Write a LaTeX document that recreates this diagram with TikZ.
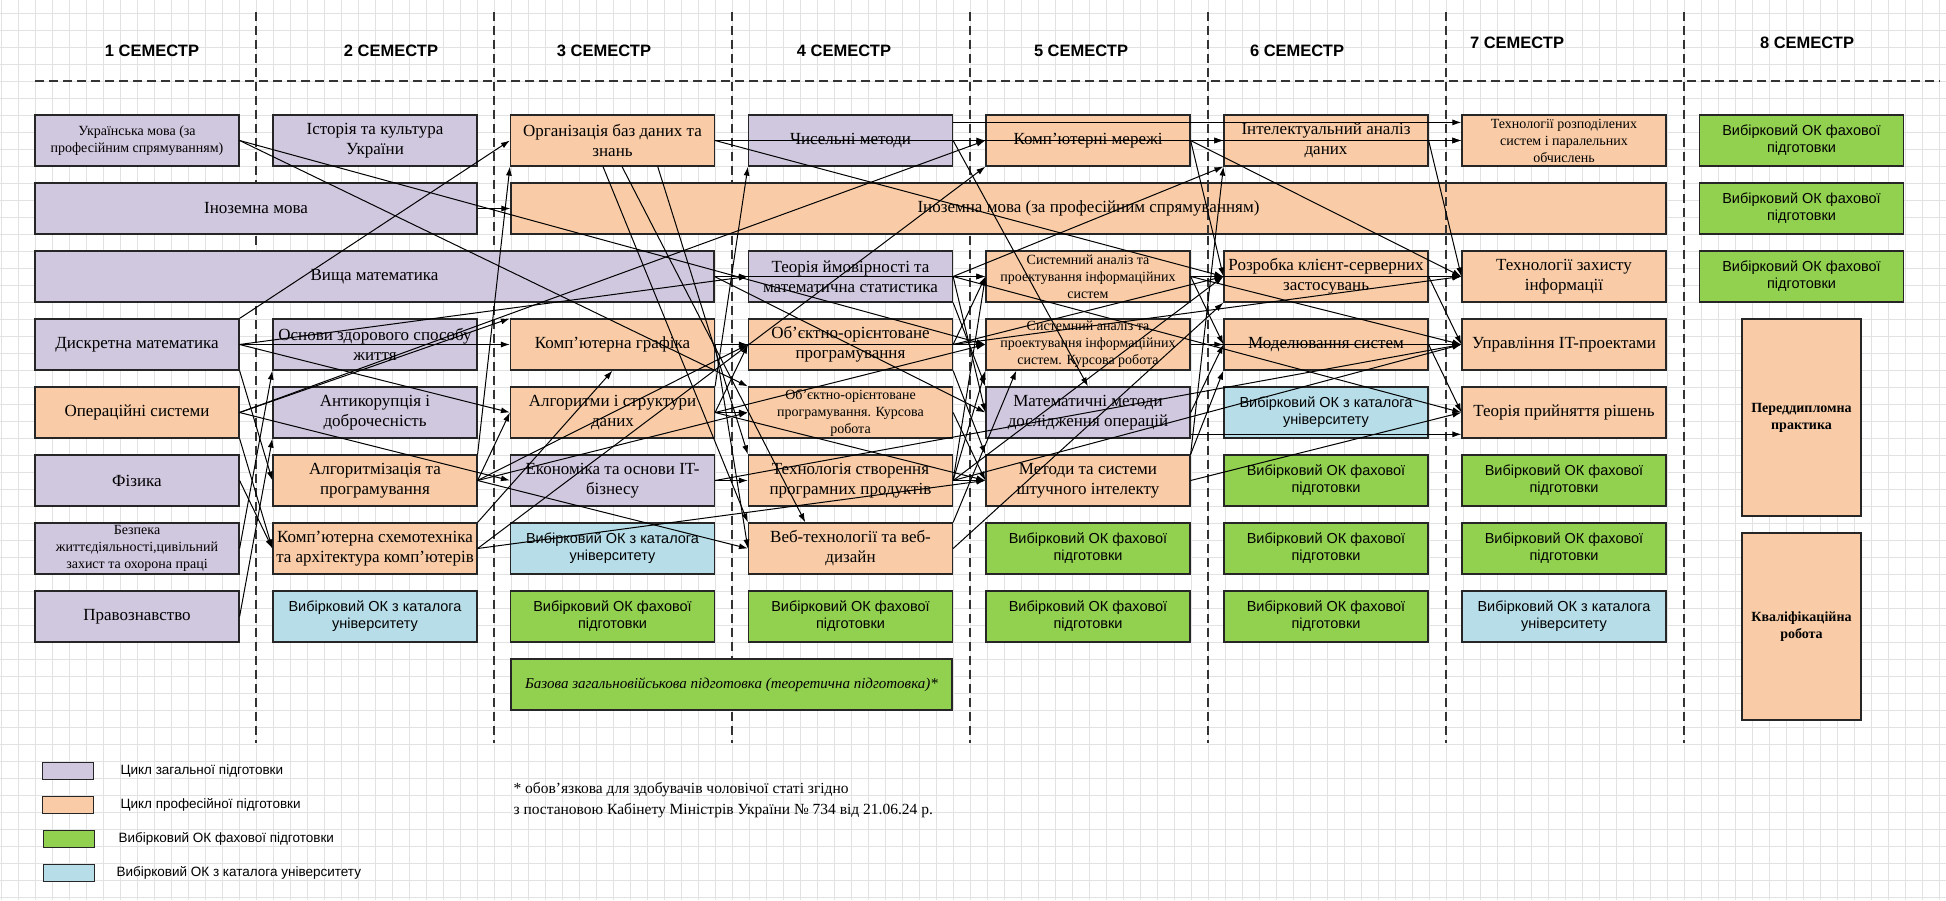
\documentclass[tikz,border=0pt]{standalone}
\usepackage{fontspec}
\setmainfont{Liberation Serif}
\setsansfont{Liberation Sans}
\usetikzlibrary{arrows.meta}

\definecolor{zagcol}{RGB}{208,200,223}
\definecolor{profcol}{RGB}{249,204,167}
\definecolor{fahcol}{RGB}{146,208,80}
\definecolor{katcol}{RGB}{183,221,232}
\definecolor{sitka}{RGB}{226,226,226}

\begin{document}
\begin{tikzpicture}[x=1pt,y=-1pt,
  box/.style={draw=black!85,line width=1.2pt,minimum width=204pt,minimum height=51pt,inner sep=1pt,align=center,font=\fontsize{17}{20}\selectfont},
  dribno/.style={font=\fontsize{14}{17}\selectfont},
  zag/.style={box,fill=zagcol},
  prof/.style={box,fill=profcol},
  fah/.style={box,fill=fahcol,font=\sffamily\fontsize{14.5}{17}\selectfont},
  kat/.style={box,fill=katcol,font=\sffamily\fontsize{14.5}{17}\selectfont},
  sem/.style={font=\sffamily\bfseries\fontsize{16.5}{20}\selectfont},
  razd/.style={black!80,line width=1.3pt,dash pattern=on 9pt off 5pt},
  dep/.style={-{Latex[length=9pt,width=6pt]},line width=1pt},
  leg/.style={draw=black!85,line width=1.2pt,minimum width=51pt,minimum height=17pt,inner sep=0pt},
  legtxt/.style={anchor=west,font=\sffamily\fontsize{13.5}{16}\selectfont}]

\useasboundingbox (0,0) rectangle (1946,900);
\fill[white] (0,0) rectangle (1946,900);
\draw[sitka,line width=0.8pt,step=17pt,xshift=1pt,yshift=-13pt] (-1,-13) grid (1945,887);
\draw[razd] (35,81) -- (1940,81);
\foreach \vx in {256,494,732,970,1208,1446,1684} \draw[razd] (\vx,12) -- (\vx,743);

% semestry
\node[sem] (s1) at (152,51) {1 СЕМЕСТР};
\node[sem] (s2) at (391,51) {2 СЕМЕСТР};
\node[sem] (s3) at (604,51) {3 СЕМЕСТР};
\node[sem] (s4) at (844,51) {4 СЕМЕСТР};
\node[sem] (s5) at (1081,51) {5 СЕМЕСТР};
\node[sem] (s6) at (1297,51) {6 СЕМЕСТР};
\node[sem] (s7) at (1517,43) {7 СЕМЕСТР};
\node[sem] (s8) at (1807,43) {8 СЕМЕСТР};

% 1 semestr
\node[zag,dribno] (ukr) at (137,140.5) {Українська мова (за\\професійним спрямуванням)};
\node[zag,minimum width=442pt] (inoz) at (256,208.5) {Іноземна мова};
\node[zag,minimum width=679pt] (vyshm) at (374.5,276.5) {Вища математика};
\node[zag] (dyskr) at (137,344.5) {Дискретна математика};
\node[prof] (opsys) at (137,412.5) {Операційні системи};
\node[zag] (fiz) at (137,480.5) {Фізика};
\node[zag,dribno] (bzhd) at (137,548.5) {Безпека\\життєдіяльності,цивільний\\захист та охорона праці};
\node[zag] (pravo) at (137,616.5) {Правознавство};
% 2 semestr
\node[zag] (ist) at (375,140.5) {Історія та культура\\України};
\node[zag] (zdor) at (375,344.5) {Основи здорового способу\\життя};
\node[zag] (antik) at (375,412.5) {Антикорупція і\\доброчесність};
\node[prof] (algprog) at (375,480.5) {Алгоритмізація та\\програмування};
\node[prof] (schem) at (375,548.5) {Комп'ютерна схемотехніка\\та архітектура комп'ютерів};
\node[kat] (vkat2) at (375,616.5) {Вибірковий ОК з каталога\\університету};
% 3 semestr
\node[prof] (orgbd) at (612.5,140.5) {Організація баз даних та\\знань};
\node[prof,minimum width=1155pt] (inozprof) at (1088.5,208.5) {Іноземна мова (за професійним спрямуванням)};
\node[prof] (kgraf) at (612.5,344.5) {Комп'ютерна графіка};
\node[prof] (algstr) at (612.5,412.5) {Алгоритми і структури\\даних};
\node[zag] (econ) at (612.5,480.5) {Економіка та основи IT-\\бізнесу};
\node[kat] (vkat3) at (612.5,548.5) {Вибірковий ОК з каталога\\університету};
\node[fah] (vfah3) at (612.5,616.5) {Вибірковий ОК фахової\\підготовки};
\node[fah,minimum width=441pt,font=\itshape\fontsize{15}{18}\selectfont] (vijsk) at (731.5,684.5) {Базова загальновійськова підготовка (теоретична підготовка)*};
% 4 semestr
\node[zag] (chysel) at (850.5,140.5) {Чисельні методи};
\node[zag] (tpmc) at (850.5,276.5) {Теорія ймовірності та\\математична статистика};
\node[prof] (oop) at (850.5,344.5) {Об'єктно-орієнтоване\\програмування};
\node[prof,dribno] (oopkr) at (850.5,412.5) {Об'єктно-орієнтоване\\програмування. Курсова\\робота};
\node[prof] (tspp) at (850.5,480.5) {Технологія створення\\програмних продуктів};
\node[prof] (web) at (850.5,548.5) {Веб-технології та веб-\\дизайн};
\node[fah] (vfah4) at (850.5,616.5) {Вибірковий ОК фахової\\підготовки};
% 5 semestr
\node[prof] (kmer) at (1088,140.5) {Комп'ютерні мережі};
\node[prof,dribno] (sapr) at (1088,276.5) {Системний аналіз та\\проектування інформаційних\\систем};
\node[prof,dribno] (saprkr) at (1088,344.5) {Системний аналіз та\\проектування інформаційних\\систем. Курсова робота};
\node[zag] (mmdo) at (1088,412.5) {Математичні методи\\дослідження операцій};
\node[prof] (mssi) at (1088,480.5) {Методи та системи\\штучного інтелекту};
\node[fah] (vfah5a) at (1088,548.5) {Вибірковий ОК фахової\\підготовки};
\node[fah] (vfah5b) at (1088,616.5) {Вибірковий ОК фахової\\підготовки};
% 6 semestr
\node[prof] (ida) at (1326,140.5) {Інтелектуальний аналіз\\даних};
\node[prof] (kserv) at (1326,276.5) {Розробка клієнт-серверних\\застосувань};
\node[prof] (model) at (1326,344.5) {Моделювання систем};
\node[kat] (vkat6) at (1326,412.5) {Вибірковий ОК з каталога\\університету};
\node[fah] (vfah6a) at (1326,480.5) {Вибірковий ОК фахової\\підготовки};
\node[fah] (vfah6b) at (1326,548.5) {Вибірковий ОК фахової\\підготовки};
\node[fah] (vfah6c) at (1326,616.5) {Вибірковий ОК фахової\\підготовки};
% 7 semestr
\node[prof,dribno] (trspo) at (1564,140.5) {Технології розподілених\\систем і паралельних\\обчислень};
\node[prof] (tzi) at (1564,276.5) {Технології захисту\\інформації};
\node[prof] (uitp) at (1564,344.5) {Управління IT-проектами};
\node[prof] (tpr) at (1564,412.5) {Теорія прийняття рішень};
\node[fah] (vfah7a) at (1564,480.5) {Вибірковий ОК фахової\\підготовки};
\node[fah] (vfah7b) at (1564,548.5) {Вибірковий ОК фахової\\підготовки};
\node[kat] (vkat7) at (1564,616.5) {Вибірковий ОК з каталога\\університету};
% 8 semestr
\node[fah] (vfah8a) at (1801.5,140.5) {Вибірковий ОК фахової\\підготовки};
\node[fah] (vfah8b) at (1801.5,208.5) {Вибірковий ОК фахової\\підготовки};
\node[fah] (vfah8c) at (1801.5,276.5) {Вибірковий ОК фахової\\підготовки};
\node[prof,minimum width=119pt,minimum height=197pt,font=\bfseries\fontsize{14}{17}\selectfont] (prakt) at (1801.5,417.5) {Переддипломна\\практика};
\node[prof,minimum width=119pt,minimum height=187pt,font=\bfseries\fontsize{14}{17}\selectfont] (kvrob) at (1801.5,626.5) {Кваліфікаційна\\робота};
\draw[razd] (1208,183) -- (1208,234);
\draw[razd] (1446,183) -- (1446,234);

% zvjazky
\draw[dep] (ukr.east) -- (oopkr.north west);
\draw[dep] (ukr.east) -- (saprkr.west);
\draw[dep] (inoz.east) -- (inozprof.west);
\draw[dep] (vyshm.east) -- (tpmc.west);
\draw[dep] (vyshm.east) -- (mmdo.west);
\draw[dep] (vyshm.east) -- (sapr.west);
\draw[dep] (dyskr.north east) -- (orgbd.west);
\draw[dep] (dyskr.south east) -- (algprog.west);
\draw[dep] (dyskr.east) -- (kgraf.west);
\draw[dep] (dyskr.east) -- (algstr.west);
\draw[dep] (dyskr.east) -- (tpmc.west);
\draw[dep] (opsys.east) -- (kgraf.north west);
\draw[dep] (opsys.east) -- (kmer.west);
\draw[dep] (opsys.east) -- (econ.west);
\draw[dep] (opsys.south east) -- (schem.west);
\draw[dep] (fiz.east) -- (schem.west);
\draw[dep] (bzhd.east) -- (zdor.south west);
\draw[dep] (pravo.east) -- (antik.south west);
\draw[dep] (algprog.north east) -- (orgbd.south west);
\draw[dep] (algprog.east) -- (algstr.west);
\draw[dep] (algprog.east) -- (oop.west);
\draw[dep] (algprog.east) -- (oopkr.west);
\draw[dep] (algprog.east) -- (web.west);
\draw[dep] (schem.north east) -- (kgraf.south);
\draw[dep] (schem.east) -- (kmer.south west);
\draw[dep] (schem.east) -- (mssi.west);
\draw[dep] (orgbd.east) -- (kmer.west);
\draw[dep] (orgbd.east) -- (ida.west);
\draw[dep] (orgbd.east) -- (kserv.west);
\draw[dep] (orgbd.-110) -- (web.north west);
\draw[dep] (orgbd.-70) -- (web.150);
\draw[dep] (orgbd.-30) -- (tspp.north west);
\draw[dep] (kgraf.east) -- (web.west);
\draw[dep] (kgraf.east) -- (oop.west);
\draw[dep] (kgraf.east) -- (saprkr.west);
\draw[dep] (algstr.north east) -- (chysel.south west);
\draw[dep] (algstr.east) -- (oop.west);
\draw[dep] (algstr.east) -- (oopkr.west);
\draw[dep] (algstr.east) -- (mssi.west);
\draw[dep] (algstr.east) -- (saprkr.west);
\draw[dep] (econ.east) -- (tspp.west);
\draw[dep] (econ.east) -- (uitp.west);
\draw[dep] (chysel.east) -- (mmdo.north);
\draw[dep] (chysel.east) -- (ida.west);
\draw[dep] (chysel.10) -- (trspo.170);
\draw[dep] (tpmc.east) -- (mmdo.west);
\draw[dep] (tpmc.south east) -- (mmdo.north west);
\draw[dep] (tpmc.east) -- (tpr.west);
\draw[dep] (tpmc.east) -- (ida.south west);
\draw[dep] (tpmc.east) -- (sapr.west);
\draw[dep] (oop.east) -- (sapr.west);
\draw[dep] (oop.east) -- (saprkr.west);
\draw[dep] (oop.east) -- (kserv.west);
\draw[dep] (oop.east) -- (tzi.west);
\draw[dep] (oop.south east) -- (mssi.north west);
\draw[dep] (oopkr.east) -- (mssi.west);
\draw[dep] (tspp.east) -- (sapr.west);
\draw[dep] (tspp.east) -- (uitp.west);
\draw[dep] (tspp.east) -- (kserv.west);
\draw[dep] (tspp.east) -- (mssi.west);
\draw[dep] (tspp.east) -- (saprkr.south west);
\draw[dep] (web.north east) -- (saprkr.-160);
\draw[dep] (web.east) -- (kserv.south west);
\draw[dep] (kmer.east) -- (trspo.west);
\draw[dep] (kmer.east) -- (tzi.west);
\draw[dep] (kmer.east) -- (kserv.west);
\draw[dep] (sapr.east) -- (model.west);
\draw[dep] (sapr.east) -- (uitp.west);
\draw[dep] (sapr.east) -- (tzi.west);
\draw[dep] (saprkr.east) -- (model.west);
\draw[dep] (saprkr.east) -- (uitp.west);
\draw[dep] (mmdo.-12) -- (tpr.-168);
\draw[dep] (mmdo.east) -- (model.west);
\draw[dep] (mssi.north east) -- (ida.south west);
\draw[dep] (mssi.north east) -- (model.south west);
\draw[dep] (mssi.east) -- (tpr.west);
\draw[dep] (ida.east) -- (tzi.west);
\draw[dep] (ida.east) -- (trspo.west);
\draw[dep] (kserv.east) -- (tzi.west);
\draw[dep] (kserv.east) -- (uitp.west);
\draw[dep] (model.east) -- (uitp.west);
\draw[dep] (model.east) -- (tpr.west);

% legenda
\node[leg,fill=zagcol] (lzag) at (68,771) {};
\node[legtxt] (lzagt) at (117,771) {Цикл загальної підготовки};
\node[leg,fill=profcol] (lprof) at (68,805) {};
\node[legtxt] (lproft) at (117,805) {Цикл професійної підготовки};
\node[leg,fill=fahcol] (lfah) at (69,839) {};
\node[legtxt] (lfaht) at (115,839) {Вибірковий ОК фахової підготовки};
\node[leg,fill=katcol] (lkat) at (69,873) {};
\node[legtxt] (lkatt) at (113,873) {Вибірковий ОК з каталога університету};
\node[anchor=west,align=left,font=\fontsize{15.5}{21}\selectfont] (prym) at (510,800) {* обов'язкова для здобувачів чоловічої статі згідно\\з постановою Кабінету Міністрів України № 734 від 21.06.24 р.};
\end{tikzpicture}
\end{document}
